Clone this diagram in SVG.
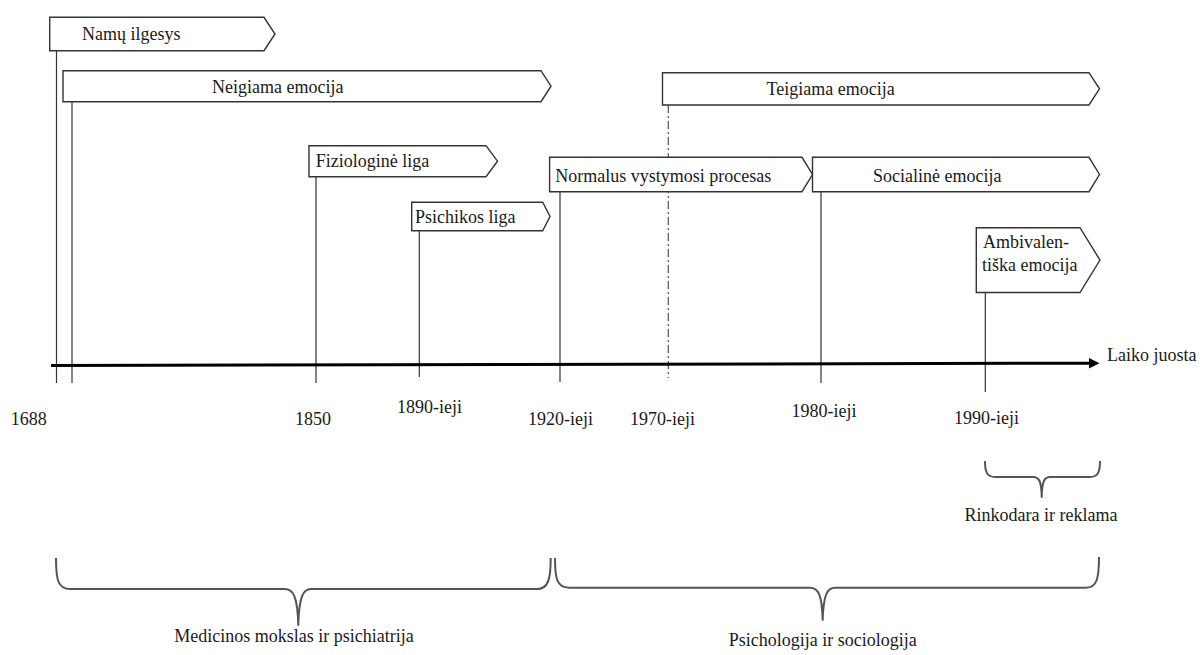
<svg xmlns="http://www.w3.org/2000/svg" width="1200" height="655" viewBox="0 0 1200 655">
<style>
  .box { fill: #ffffff; stroke: #333333; stroke-width: 1.4; }
  .t { font-family: "Liberation Serif", "Times New Roman", serif; font-size: 18px; fill: #1a1a1a; }
  .tm { text-anchor: middle; }
  .vl { stroke: #333333; stroke-width: 1.2; fill: none; }
  .dash { stroke: #555555; stroke-width: 1.2; stroke-dasharray: 8 3 2 3; fill: none; }
  .axis { stroke: #000000; stroke-width: 3; fill: none; }
  .brace { stroke: #555555; stroke-width: 2; fill: none; stroke-linejoin: round; }
</style>
<rect x="0" y="0" width="1200" height="655" fill="#ffffff"/>

<g id="connectors">
  <line class="vl" x1="56.5" y1="50.7" x2="56.5" y2="383"/>
  <line class="vl" x1="72" y1="101.7" x2="72" y2="383"/>
  <line class="vl" x1="316" y1="176.7" x2="316" y2="383"/>
  <line class="vl" x1="419.3" y1="230.7" x2="419.3" y2="377"/>
  <line class="vl" x1="560" y1="191.7" x2="560" y2="382"/>
  <line class="dash" x1="668.3" y1="105" x2="668.3" y2="378"/>
  <line class="vl" x1="821" y1="191.7" x2="821" y2="383"/>
  <line class="vl" x1="985.3" y1="292.5" x2="985.3" y2="392"/>
  <line class="axis" x1="51" y1="365.5" x2="1091" y2="363.2"/>
  <path d="M1089,358 L1099.5,363.2 L1089,368.4 Z" fill="#000000"/>
</g>

<g id="node-namu">
  <path class="box" d="M49.7,17.3 L264,17.3 L275,34 L264,50.7 L49.7,50.7 Z"/>
  <text class="t" x="82" y="39.5">Namų ilgesys</text>
</g>
<g id="node-neigiama">
  <path class="box" d="M63,70.7 L541,70.7 L551,86.2 L541,101.7 L63,101.7 Z"/>
  <text class="t" x="212" y="92.5">Neigiama emocija</text>
</g>
<g id="node-teigiama">
  <path class="box" d="M662.5,72.7 L1089,72.7 L1099.5,88.8 L1089,105 L662.5,105 Z"/>
  <text class="t" x="766.5" y="95">Teigiama emocija</text>
</g>
<g id="node-fiziologine">
  <path class="box" d="M309,145.7 L486,145.7 L497.5,161.2 L486,176.7 L309,176.7 Z"/>
  <text class="t" x="315.7" y="166.7">Fiziologinė liga</text>
</g>
<g id="node-normalus">
  <path class="box" d="M549.6,157.3 L802,157.3 L812.5,174.5 L802,191.7 L549.6,191.7 Z"/>
  <text class="t" x="555.3" y="181.7">Normalus vystymosi procesas</text>
</g>
<g id="node-socialine">
  <path class="box" d="M812.5,157.3 L1089,157.3 L1099.5,174.5 L1089,191.7 L812.5,191.7 Z"/>
  <text class="t" x="873" y="181.7">Socialinė emocija</text>
</g>
<g id="node-psichikos">
  <path class="box" d="M411.7,202.3 L542.7,202.3 L550,216.5 L542.7,230.7 L411.7,230.7 Z"/>
  <text class="t" x="415" y="223.3">Psichikos liga</text>
</g>
<g id="node-ambivalentiska">
  <path class="box" d="M976.3,227.7 L1080,227.7 L1100,260.1 L1080,292.5 L976.3,292.5 Z"/>
  <text class="t" x="983" y="248.3">Ambivalen-</text>
  <text class="t" x="982" y="271">tiška emocija</text>
</g>

<g id="axis-labels">
  <text class="t" x="10.7" y="425">1688</text>
  <text class="t" x="295" y="425">1850</text>
  <text class="t" x="397" y="413">1890-ieji</text>
  <text class="t" x="528" y="425">1920-ieji</text>
  <text class="t" x="630" y="425">1970-ieji</text>
  <text class="t" x="791.4" y="417.3">1980-ieji</text>
  <text class="t" x="954" y="424">1990-ieji</text>
  <text class="t" x="1107" y="360.5">Laiko juosta</text>
</g>

<g id="brace-rinkodara">
  <path class="brace" d="M985,461 C985,472 987,477 995,477 L1033,477 C1039,477 1041.5,481 1041.7,497 C1042,481 1044.5,477 1050,477 L1090,477 C1098,477 1100,472 1100,461"/>
  <text class="t tm" x="1041" y="521">Rinkodara ir reklama</text>
</g>
<g id="brace-medicinos">
  <path class="brace" d="M56,558 C56,580 58,589 70,589 L285,589 C293,589 297.5,596 298.3,625 C299,596 303.5,589 311,589 L537,589 C548,589 550.7,580 550.7,558"/>
  <text class="t tm" x="294" y="642">Medicinos mokslas ir psichiatrija</text>
</g>
<g id="brace-psichologija">
  <path class="brace" d="M555,558 C555,579 557,587.7 569,587.7 L810,587.7 C818,587.7 822,594 822.7,620 C823.4,594 827.5,587.7 835,587.7 L1086,587.7 C1097,587.7 1099,578 1099,557"/>
  <text class="t tm" x="822.7" y="646">Psichologija ir sociologija</text>
</g>
</svg>
